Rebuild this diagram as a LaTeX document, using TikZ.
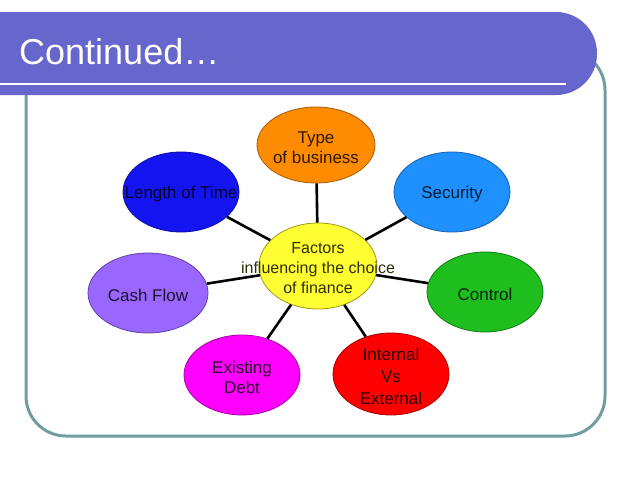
\documentclass[tikz,border=0pt]{standalone}
\usepackage{fontspec}
\setmainfont{Liberation Sans}
\usetikzlibrary{shapes.geometric}
\definecolor{barC}{RGB}{102,102,204}
\definecolor{frameC}{RGB}{112,158,158}
\definecolor{cType}{RGB}{255,140,0}
\definecolor{cSec}{RGB}{30,144,255}
\definecolor{cCtl}{RGB}{30,190,30}
\definecolor{cInt}{RGB}{255,0,0}
\definecolor{cDebt}{RGB}{255,0,255}
\definecolor{cCash}{RGB}{153,102,255}
\definecolor{cLen}{RGB}{20,20,240}
\definecolor{cCen}{RGB}{255,255,51}
\begin{document}
\begin{tikzpicture}[x=1pt,y=-1pt,
  conn/.style={line width=2.6pt,black},
  bub/.style={ellipse, draw=#1!65!black, fill=#1, line width=0.8pt,
    minimum width=116pt, minimum height=80pt, inner sep=0pt},
  txt/.style={align=center, inner sep=0pt, text=black!82!#1, yshift=-2.5pt,
    font=\fontsize{17}{20}\selectfont}
]
\useasboundingbox (0,0) rectangle (638,479);
\fill[white] (0,0) rectangle (638,479);
\begin{scope}
\clip (0,0) rectangle (638,479);
\draw[frameC, line width=3pt, rounded corners=40pt] (26,50) rectangle (605,436);
\fill[barC, rounded corners=41pt] (-60,12) rectangle (597,95);
\draw[white, line width=1.8pt] (0,84) -- (566,84);
\end{scope}
\node[anchor=base west, inner sep=0pt, text=white, font=\fontsize{36}{40}\selectfont] (title) at (19,64) {Continued…};

\node[bub=cType, minimum width=118pt, minimum height=76pt] (type) at (316,145) {};
\node[bub=cSec] (sec) at (452,192) {};
\node[bub=cCtl] (ctl) at (485,292) {};
\node[bub=cInt, minimum height=82pt] (int) at (391,374) {};
\node[bub=cDebt] (debt) at (242,375) {};
\node[bub=cCash, minimum width=120pt] (cash) at (148,293) {};
\node[bub=cLen] (len) at (181,192) {};
\node[ellipse, draw=cCen!60!black, fill=cCen, line width=0.8pt, minimum width=118pt, minimum height=86pt, inner sep=0pt] (cen) at (318,266) {};

\foreach \n in {type,sec,ctl,int,debt,cash,len}
  \draw[conn] (cen) -- (\n);

\node[txt=cType] (type-t) at (type) {Type\\of business};
\node[txt=cSec] (sec-t) at (sec) {Security};
\node[txt=cCtl] (ctl-t) at (ctl) {Control};
\node[txt=cInt, font=\fontsize{17}{22}\selectfont] (int-t) at (int) {Internal\\Vs\\External};
\node[txt=cDebt] (debt-t) at (debt) {Existing\\Debt};
\node[txt=cCash] (cash-t) at (cash) {Cash Flow};
\node[txt=cLen] (len-t) at (len) {Length of Time};
\node[txt=cCen, font=\fontsize{16}{20}\selectfont] (cen-t) at (cen) {Factors\\influencing the choice\\of finance};
\end{tikzpicture}
\end{document}
